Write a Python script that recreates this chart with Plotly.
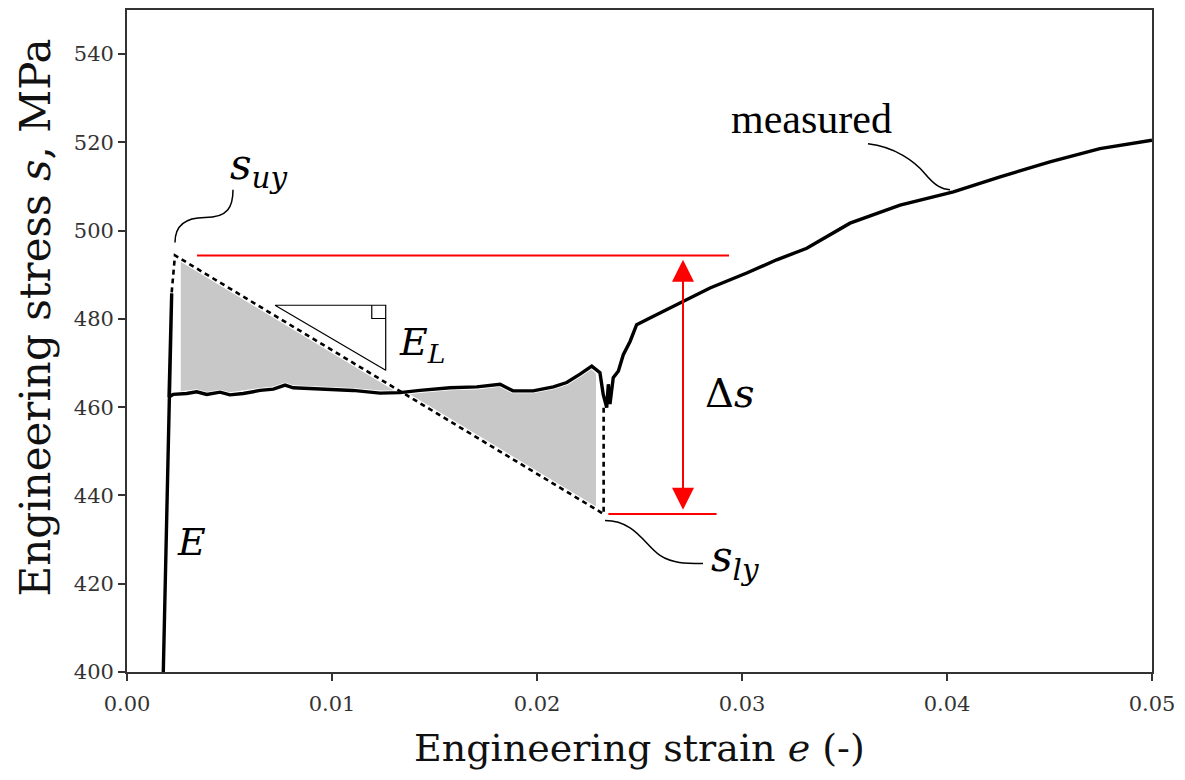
import numpy as np
import plotly.graph_objects as go

# ---- measured curve (engineering strain, engineering stress MPa) ----
strain = [0.00177, 0.00218, 0.00205, 0.00226, 0.00291, 0.0034, 0.00389, 0.00454, 0.00502,
          0.00567, 0.00649, 0.00714, 0.00771, 0.00811, 0.00941, 0.01102, 0.01234, 0.01332,
          0.01429, 0.01576, 0.01706, 0.0182, 0.01883, 0.01981, 0.0208, 0.02145, 0.0221,
          0.02267, 0.02307, 0.02323, 0.0234, 0.02348, 0.02356, 0.02372, 0.02397, 0.02421,
          0.02454, 0.02486, 0.02568, 0.02681, 0.02844, 0.03023, 0.03169, 0.03316, 0.03527,
          0.03771, 0.04031, 0.04259, 0.04502, 0.04746, 0.0500]
stress = [400, 485.8, 462.3, 462.9, 463.1, 463.5, 462.9, 463.4, 462.8,
          463.1, 463.8, 464.1, 465.0, 464.4, 464.1, 463.8, 463.2, 463.3,
          463.8, 464.4, 464.6, 465.2, 463.7, 463.7, 464.6, 465.6, 467.5,
          469.3, 467.8, 462.9, 459.9, 465.2, 460.7, 466.7, 468.2, 471.9,
          474.9, 478.7, 480.6, 483.2, 487.0, 490.4, 493.4, 496.0, 501.7,
          505.8, 508.8, 512.2, 515.6, 518.6, 520.5]

# ---- idealised model (dotted) ----
e_elastic_top, s_elastic_top = 0.00218, 486.0
e_uy, s_uy = 0.00234, 494.4
e_ly, s_ly = 0.02325, 435.8
s_ly_curve = 460.0

# red markers
upper_red_e = [0.003415, 0.029366]
lower_red_e = [0.02348, 0.02876]
arrow_e = 0.027122
arrow_top, arrow_bot = 493.4, 436.4

# fill extent
fill_e0, fill_e1 = 0.0025, 0.0230

# E_L triangle
tri_e = [0.00722, 0.01262, 0.01262, 0.00722]
tri_s = [483.1, 483.1, 468.35, 483.1]
sq_e = [0.01194, 0.01194, 0.01262]
sq_s = [483.1, 480.1, 480.1]

xticks = [0.00, 0.01, 0.02, 0.03, 0.04, 0.05]
yticks = [400, 420, 440, 460, 480, 500, 520, 540]

SERIF = "DejaVu Serif"

def diag(e):
    return s_uy + (e - e_uy) * (s_ly - s_uy) / (e_ly - e_uy)

fig = go.Figure()

# grey filled area between model and measurement
se = np.array(strain)
ss = np.array(stress)
mask = (se > fill_e0) & (se < fill_e1) & (np.arange(len(se)) > 2)
curve_e = [fill_e0] + list(se[mask]) + [fill_e1]
curve_s = [463.0] + list(ss[mask]) + [467.8]
poly_e = [fill_e0, fill_e1] + curve_e[::-1]
poly_s = [diag(fill_e0), diag(fill_e1)] + curve_s[::-1]
poly_e.append(poly_e[0]); poly_s.append(poly_s[0])
fig.add_trace(go.Scatter(x=poly_e, y=poly_s, mode="lines", fill="toself",
                         fillcolor="#c8c8c8", line=dict(color="white", width=5),
                         hoverinfo="skip", showlegend=False))

# dotted model line
fig.add_trace(go.Scatter(x=[e_elastic_top, e_uy, e_ly, e_ly],
                         y=[s_elastic_top, s_uy, s_ly, s_ly_curve],
                         mode="lines", line=dict(color="black", width=2.6, dash="5px,4px"),
                         showlegend=False))

# measured curve
fig.add_trace(go.Scatter(x=strain, y=stress, mode="lines",
                         line=dict(color="black", width=3.4), showlegend=False))

# red horizontal lines
fig.add_trace(go.Scatter(x=upper_red_e, y=[s_uy, s_uy], mode="lines",
                         line=dict(color="#ff0000", width=2), showlegend=False))
fig.add_trace(go.Scatter(x=lower_red_e, y=[s_ly, s_ly], mode="lines",
                         line=dict(color="#ff0000", width=2), showlegend=False))

# E_L triangle
fig.add_trace(go.Scatter(x=tri_e, y=tri_s, mode="lines",
                         line=dict(color="black", width=1.2), showlegend=False))
fig.add_trace(go.Scatter(x=sq_e, y=sq_s, mode="lines",
                         line=dict(color="black", width=1.2), showlegend=False))

# leader curves (cubic Bezier paths in data coordinates)
leader_suy = ("M 0.002341 497.32 C 0.002341 500.94 0.002829 502.97 0.003805 502.97 "
              "C 0.004927 502.97 0.005171 505.45 0.005171 509.29")
leader_meas = ("M 0.036146 519.68 C 0.037463 519.0 0.038439 515.61 0.038927 512.90 "
               "C 0.039415 510.19 0.039756 509.29 0.040146 509.29")
leader_sly = ("M 0.023317 434.32 C 0.024780 434.32 0.025268 428.68 0.026 426.42 "
              "C 0.026585 424.61 0.027220 424.61 0.028098 424.61")
shapes = [dict(type="path", xref="x", yref="y", path=p,
               line=dict(color="black", width=1.5))
          for p in (leader_suy, leader_meas, leader_sly)]

annotations = [
    # double arrow
    dict(x=arrow_e, y=arrow_top, ax=arrow_e, ay=arrow_bot, xref="x", yref="y",
         axref="x", ayref="y", text="", showarrow=True, arrowside="end+start",
         arrowhead=2, startarrowhead=2, arrowsize=2.2, startarrowsize=2.2,
         arrowwidth=2, arrowcolor="#ff0000"),
    dict(x=0.00640, y=514.3, xref="x", yref="y", showarrow=False,
         text="<i>s</i><sub><i>uy</i></sub>", font=dict(family=SERIF, size=42, color="black")),
    dict(x=0.02966, y=425.6, xref="x", yref="y", showarrow=False,
         text="<i>s</i><sub><i>ly</i></sub>", font=dict(family=SERIF, size=42, color="black")),
    dict(x=0.00317, y=429.4, xref="x", yref="y", showarrow=False,
         text="<i>E</i>", font=dict(family=SERIF, size=38, color="black")),
    dict(x=0.01439, y=474.3, xref="x", yref="y", showarrow=False,
         text="<i>E</i><sub><i>L</i></sub>", font=dict(family=SERIF, size=38, color="black")),
    dict(x=0.02941, y=463.2, xref="x", yref="y", showarrow=False,
         text="Δ<i>s</i>", font=dict(family=SERIF, size=40, color="black")),
    dict(x=0.03337, y=525.3, xref="x", yref="y", showarrow=False,
         text="measured", font=dict(family="Liberation Serif", size=42, color="black")),
    # axis titles
    dict(x=0.5, y=-0.1145, xref="paper", yref="paper", showarrow=False,
         xanchor="center", yanchor="middle",
         text="Engineering strain <i>e</i> (-)", font=dict(family=SERIF, size=38, color="#111")),
    dict(x=-0.0895, y=0.536, xref="paper", yref="paper", showarrow=False, textangle=-90,
         xanchor="center", yanchor="middle",
         text="Engineering stress <i>s</i>, MPa", font=dict(family=SERIF, size=42, color="#111")),
]

axis_common = dict(showgrid=False, zeroline=False, showline=True, linecolor="#333",
                   linewidth=1.8, mirror=True, ticks="outside", ticklen=7, tickwidth=1.5,
                   tickcolor="#333", tickfont=dict(family=SERIF, size=21, color="#333"))

# the page body adds an 8px offset, so the figure is sized/margined to compensate
fig.update_layout(
    width=1177, height=772,
    margin=dict(l=119, r=33, t=0, b=108),
    paper_bgcolor="white", plot_bgcolor="white",
    xaxis=dict(range=[0, 0.05], tickvals=xticks, ticktext=[f"{v:.2f}" for v in xticks],
               ticklabelstandoff=5, **axis_common),
    yaxis=dict(range=[400, 550], tickvals=yticks, ticktext=[str(v) for v in yticks],
               **axis_common),
    shapes=shapes, annotations=annotations, showlegend=False,
)

fig.write_html("out.html")
